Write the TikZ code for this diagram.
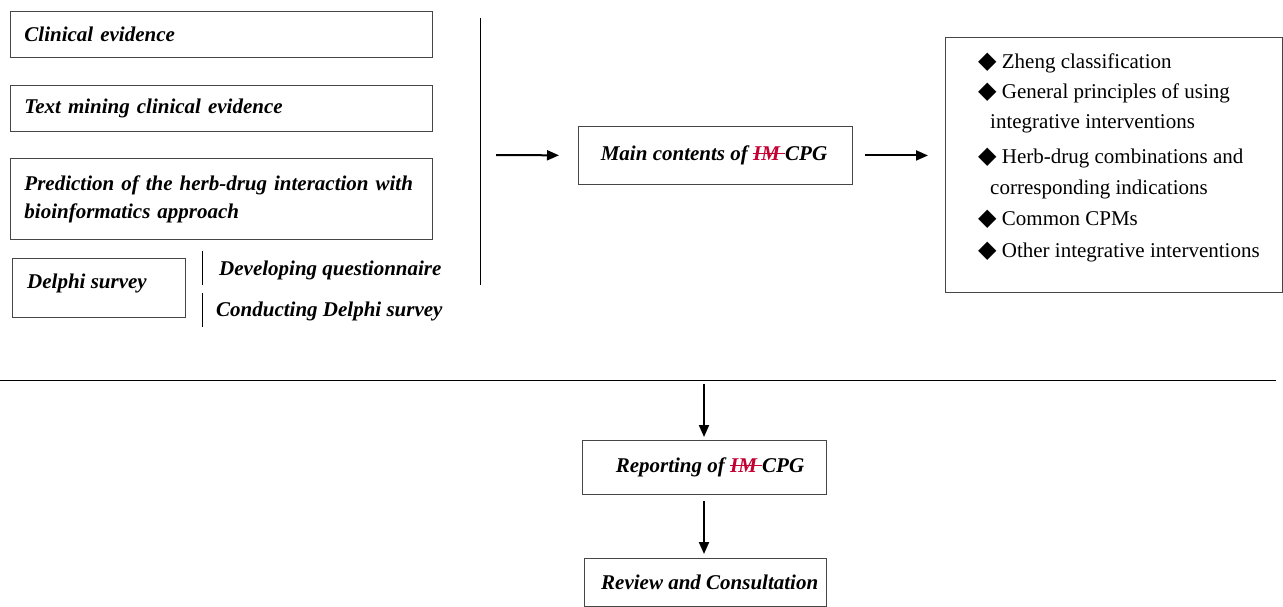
\documentclass[tikz,border=0pt]{standalone}
\usepackage{fontspec}
\setmainfont{Liberation Serif}
\newfontfamily\symfont{DejaVu Sans}
\usetikzlibrary{arrows.meta}
\definecolor{imred}{RGB}{196,0,50}
\definecolor{boxgray}{RGB}{70,70,70}
\newsavebox\imbox
\newcommand\imstrike{{\color{imred}\sbox\imbox{IM\ }\rlap{\usebox\imbox}\rule[0.3em]{\wd\imbox}{0.06em}}}
\newcommand\dia{{\symfont\fontsize{24}{24}\selectfont ◆}}
\begin{document}
\begin{tikzpicture}[x=1pt,y=-1pt,
  lbox/.style={draw=boxgray,line width=0.9pt,anchor=north west,inner xsep=14pt,inner ysep=0pt,
    text width=#1,align=left,font=\fontsize{21}{28}\selectfont\bfseries\itshape},
  cbox/.style={draw=boxgray,line width=0.9pt,anchor=north west,inner sep=0pt,
    font=\fontsize{21}{28}\selectfont\bfseries\itshape},
  lbl/.style={anchor=west,inner sep=0pt,font=\fontsize{21}{28}\selectfont\bfseries\itshape},
  item/.style={anchor=base west,inner sep=0pt,font=\fontsize{21}{30}\selectfont},
  arr/.style={line width=2pt,-{Triangle[length=12pt,width=10pt]}},
  thin/.style={line width=0.8pt}]
\useasboundingbox (0,0) rectangle (1283,607);
% left boxes
\node[lbox=394pt,minimum height=46pt] (ce) at (10,11) {Clinical evidence};
\node[lbox=394pt,minimum height=46pt] (tm) at (10,85) {Text mining clinical evidence};
\node[lbox=394pt,minimum height=81pt] (pr) at (10,158) {Prediction of the herb-drug interaction with\\bioinformatics approach};
\node[cbox,minimum width=173pt,minimum height=59pt] (dp) at (12,258) {};
\node[lbl] (dpt) at (27,283) {Delphi survey};
\coordinate (v1a) at (202,251); \coordinate (v1b) at (202,285);
\coordinate (v2a) at (202,293); \coordinate (v2b) at (202,327);
\draw[thin] (v1a) -- (v1b);
\draw[thin] (v2a) -- (v2b);
\node[lbl] (dq) at (219,270) {Developing questionnaire};
\node[lbl] (cd) at (216,311) {Conducting Delphi survey};
% divider
\coordinate (da) at (480,18); \coordinate (db) at (480,285);
\draw[thin] (da) -- (db);
% main box
\node[cbox,minimum width=274pt,minimum height=58pt] (mc) at (578,126) {};
\node[lbl,anchor=center] (mct) at (714,155) {Main contents of \imstrike CPG};
\coordinate (a1) at (496,155);
\draw[arr,shorten >=19pt] (a1) -- (mc.west);
% right box
\node[cbox,minimum width=337pt,minimum height=255pt] (rb) at (945,37) {};
\node[item] (r1) at (978,69) {\dia\ Zheng classification};
\node[item] (r2) at (978,99) {\dia\ General principles of using};
\node[item] (r3) at (990,129) {integrative interventions};
\node[item] (r4) at (978,164) {\dia\ Herb-drug combinations and};
\node[item] (r5) at (990,194) {corresponding indications};
\node[item] (r6) at (978,225) {\dia\ Common CPMs};
\node[item] (r7) at (978,257) {\dia\ Other integrative interventions};
\draw[arr,shorten <=12pt,shorten >=17pt] (mc.east) -- (mc.east -| rb.west);
% separator
\coordinate (h1) at (0,380); \coordinate (h2) at (1276,380);
\draw[thin] (h1) -- (h2);
% lower boxes
\node[cbox,minimum width=244pt,minimum height=54pt] (rp) at (582,440) {};
\node[lbl,anchor=center] (rpt) at (710,467) {Reporting of \imstrike CPG};
\node[cbox,minimum width=242pt,minimum height=48pt] (rv) at (584,558) {};
\node[lbl] (rvt) at (601,582) {Review and Consultation};
\coordinate (a3) at (704,380);
\draw[arr,shorten <=4pt,shorten >=3pt] (a3) -- (a3 |- rp.north);
\draw[arr,shorten <=6pt,shorten >=4pt] (rp.south -| a3) -- (a3 |- rv.north);
\end{tikzpicture}
\end{document}
